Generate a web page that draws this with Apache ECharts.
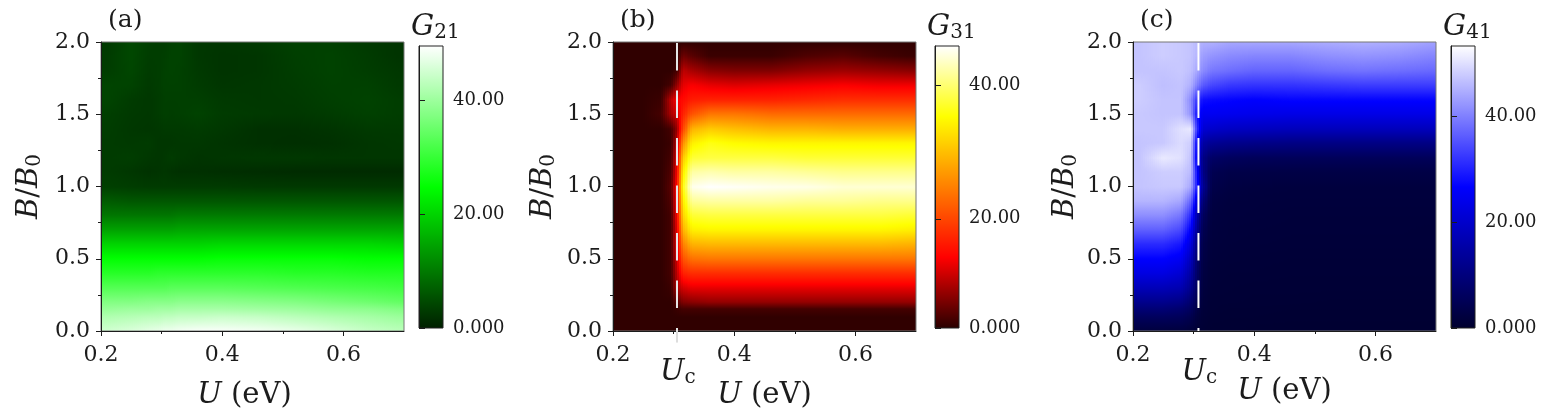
<!DOCTYPE html>
<html>
<head>
<meta charset="utf-8">
<style>
  html, body { margin: 0; padding: 0; background: #fff; }
  #chart { width: 1549px; height: 415px; }
</style>
<script src="https://cdn.jsdelivr.net/npm/echarts@6/dist/echarts.min.js"></script>
</head>
<body>
<div id="chart"></div>
<script>
// U (eV) of each data column, B/B0 of each data row (rows run bottom to top)
const uNodes = [0.21, 0.25, 0.28, 0.295, 0.305, 0.315, 0.33, 0.36, 0.4, 0.46, 0.52, 0.58, 0.64, 0.69];
const bNodes = [0, 0.1, 0.15, 0.2, 0.3, 0.4, 0.5, 0.6, 0.7, 0.8, 0.9, 1.0, 1.1, 1.2, 1.3, 1.4, 1.5, 1.6, 1.7, 1.8, 1.9, 2.0];

const uTicks = [0.2, 0.4, 0.6];
const uMinorTicks = [0.3, 0.5];
const barTicks = [[0, 20, 40], [3.7, 20, 40], [0, 20, 40]];
const barRanges = [[0, 49.6], [3.7, 45.8], [0, 53.2]];
const panelLabels = ['(a)', '(b)', '(c)'];
const barNames = ['21', '31', '41'];
const uCritical = [null, 0.3056, 0.308];

const g21 = [
  [45, 46, 47, 47.5, 48, 48, 48.5, 49, 49, 48.5, 47.5, 46, 44, 43],
  [42, 42.5, 43, 43, 43.5, 43.5, 44, 44, 44.5, 44, 43, 42, 41, 40],
  [39.5, 40, 40, 40.5, 40.5, 40.5, 41, 41, 41, 40.5, 40, 39, 38.5, 37.5],
  [37.5, 37.5, 38, 38, 38, 38, 38.5, 38.5, 38.5, 38, 37.5, 36.5, 35.5, 34.5],
  [33, 33, 33, 33, 33, 33.5, 33.5, 33.5, 33.5, 33, 32.5, 32, 31.5, 31],
  [28.5, 28.5, 28.5, 29, 29, 29, 29, 29, 29, 29, 28.5, 28.5, 28, 28],
  [25, 25, 25, 25, 25, 25, 25, 25, 25.5, 25.5, 25.5, 25.5, 25, 25],
  [20, 20, 20, 20, 20, 20, 20, 20, 20.5, 20.5, 20.5, 20.5, 20.5, 20],
  [14.5, 14.5, 14.5, 14.5, 14.5, 14.5, 15, 15, 15, 15, 15, 15, 15, 15],
  [9.5, 9.5, 9.5, 9.5, 9.5, 9.5, 10, 10, 10, 10, 10, 10, 10, 10],
  [6.5, 6, 6, 6, 6, 6, 6, 6, 6, 6, 6, 6, 6, 6],
  [3.5, 3.2, 3, 3, 3, 3, 3, 3, 3, 2.8, 2.8, 2.8, 2.8, 2.8],
  [3, 2.5, 2, 2.2, 2.4, 2, 1.8, 1.8, 1.6, 1.4, 1.2, 1.2, 1.2, 1.2],
  [3, 3.2, 2.6, 2.4, 2.6, 3, 2.6, 2.2, 2.4, 2.6, 2.6, 2.4, 2.4, 2.4],
  [3, 2.8, 3, 2.4, 2.4, 2.4, 2.6, 2.6, 2.2, 1.8, 1.6, 1.8, 2.4, 2.6],
  [3.2, 2.6, 2.4, 2.6, 2.8, 2.8, 2.8, 3, 2.6, 1.8, 1.8, 2.2, 2.8, 2.8],
  [3.4, 2.8, 2.6, 3, 3.4, 3.2, 3.4, 3.8, 3, 2.8, 2.6, 3, 3.6, 3.2],
  [4, 3, 2.6, 3, 3.4, 3.4, 3.4, 3.4, 2.8, 2.6, 2.8, 3.4, 3.8, 3.2],
  [4, 3.8, 2.8, 3.2, 3.6, 3.6, 3.6, 3, 2.4, 2.6, 3, 3.6, 3.6, 2.8],
  [3.2, 4.2, 3, 3.2, 3.6, 3.8, 3.6, 2.8, 2.2, 2.4, 3.2, 3.8, 3.2, 2.6],
  [3, 4.4, 3.2, 3.2, 3.4, 3.8, 3.8, 2.6, 2.2, 2.4, 3.4, 3.8, 3, 2.2],
  [2.8, 4.4, 3.4, 3.2, 3.2, 3.6, 3.8, 2.6, 2.4, 2.8, 3.6, 3.6, 2.8, 2.2]
];

const g31 = [
  [4, 4, 4, 4, 4, 4, 4, 4, 4, 4, 4, 4, 4, 4],
  [4, 4, 4, 4, 4, 4, 4, 4, 4, 4, 4, 4, 4, 4],
  [4, 4, 4, 4, 4.5, 5, 5, 5, 5, 5, 5, 5, 5, 5],
  [4, 4, 4, 4, 6, 8, 8.5, 9, 9, 9, 9, 9, 9, 9],
  [4, 4, 4, 4.5, 10, 12, 13, 13, 13, 13, 13, 13, 13, 13],
  [4, 4, 4, 5, 11, 17, 18, 18, 18, 18, 18, 18, 18, 18],
  [4, 4, 4, 5, 12, 21, 23.5, 24, 24, 24, 24, 24, 24, 24],
  [4, 4, 4, 5, 13, 25, 29, 29.5, 29.5, 29.5, 29.5, 29.5, 29.5, 29],
  [4, 4, 4, 5, 13, 29, 34, 34.5, 34.5, 34.5, 34.5, 34.5, 34.5, 34],
  [4, 4, 4, 5, 14, 32, 37.5, 38, 38, 38, 38, 38, 38, 37.5],
  [4, 4, 4, 5.5, 14.5, 34, 41.5, 42, 42, 42, 41.5, 41.5, 41, 41],
  [4, 4, 4, 6, 15, 36, 45, 45.8, 45.5, 45, 44.8, 44, 44, 44],
  [4, 4, 4, 5.5, 14, 34, 42, 42.5, 42, 42, 41.5, 41, 41, 41],
  [4, 4, 4, 5, 13, 31, 37.5, 38, 38, 38, 37.5, 37.5, 37.5, 37.5],
  [4, 4, 4, 4.5, 11, 26, 34, 36, 35, 34.5, 34.5, 34.5, 34.5, 34.5],
  [4, 4, 4, 5, 9, 20, 29, 31, 30, 29, 29, 28.5, 28.5, 28.5],
  [4, 4, 5, 10, 12, 17, 21, 24, 24, 23, 23, 23, 23, 23],
  [4, 4, 4.5, 11, 14, 15, 16.5, 17, 17, 17, 17.5, 18, 18, 18],
  [4, 4, 4, 5, 9, 13, 14, 13, 12.5, 13, 13.5, 14, 13.5, 13.5],
  [4, 4, 4, 4, 5, 11, 10, 8.5, 8, 8, 9, 9.5, 9, 8.5],
  [4, 4, 4, 4, 4, 7, 6, 4.5, 4.5, 4.5, 5.5, 6, 5, 4.5],
  [4, 4, 4, 4, 4, 4, 4, 4, 4, 4, 4, 4, 4, 4]
];

const g41 = [
  [2, 2, 2, 1.5, 1, 0.8, 0.6, 0.6, 0.5, 0.5, 0.5, 0.5, 0.5, 0.5],
  [6, 6, 5.5, 4, 2, 1.2, 0.8, 0.7, 0.7, 0.6, 0.6, 0.6, 0.6, 0.6],
  [9, 9, 8, 6, 3, 1.4, 1, 0.8, 0.8, 0.7, 0.7, 0.7, 0.7, 0.7],
  [12, 12, 11, 8, 4, 1.6, 1, 1, 0.9, 0.9, 0.8, 0.8, 0.8, 0.8],
  [17.5, 17.5, 16.5, 12, 6, 2, 1.2, 1.1, 1, 1, 1, 1, 1, 1],
  [23, 23, 21, 15, 7, 2.5, 1.4, 1.2, 1.2, 1.1, 1.1, 1.1, 1.1, 1.1],
  [26.6, 26.6, 25, 18, 8, 3, 1.6, 1.4, 1.3, 1.2, 1.2, 1.2, 1.2, 1.2],
  [31, 31, 29, 22, 10, 3.5, 1.8, 1.6, 1.5, 1.4, 1.4, 1.4, 1.4, 1.4],
  [36.5, 36.5, 34, 26, 13, 4.5, 2, 1.7, 1.6, 1.5, 1.5, 1.5, 1.5, 1.4],
  [41.5, 41.5, 39, 31, 16, 6, 2.2, 1.9, 1.8, 1.6, 1.6, 1.6, 1.6, 1.6],
  [45.5, 45.5, 44, 37, 22, 9, 2.6, 2, 1.9, 1.8, 1.8, 1.8, 1.8, 1.8],
  [47, 47.5, 47.5, 44, 29, 13, 3.5, 2.5, 2.2, 2, 2, 2, 2, 2],
  [47, 48, 48, 46, 28, 11, 4.5, 3.5, 3.2, 3, 3, 3, 3, 3],
  [47, 51, 50, 47, 24, 11, 7, 6, 5.5, 5.5, 5.5, 5.5, 5.5, 5.5],
  [47, 47.5, 49.5, 48, 26, 15, 13, 12, 11.5, 11, 11, 11, 11, 11],
  [47.5, 47.5, 50, 51, 32, 21, 20, 19, 18.5, 18, 18, 18, 18, 18],
  [47.5, 47, 47, 42, 28, 25, 25, 24.5, 24, 23.5, 23.5, 23.5, 23.5, 23.5],
  [48, 47, 47, 41, 32, 28, 27.5, 27, 26.5, 27, 27, 27, 27, 27],
  [48, 46.5, 47, 45, 40, 36, 34, 32.5, 32, 32, 32.5, 33, 33, 33],
  [47, 47, 47.5, 46.5, 44, 41, 39, 38, 37, 37, 38, 38.5, 38, 37.5],
  [47, 48, 47.5, 47, 45.5, 43, 42, 41, 40.5, 40.5, 41.5, 42, 41.5, 40.5],
  [47, 48, 47.5, 47, 46, 45, 45, 44, 44, 44, 44.5, 45, 44.5, 43.5]
];

const panelValues = [g21, g31, g41];

const FONT = '"DejaVu Serif", serif';
const INK = '#1c1c1c';

// colour stops per panel: [fraction of the bar, [r, g, b]]
const colorStops = [
  [[0, [0, 32, 0]], [0.5, [0, 255, 0]], [1, [255, 255, 255]]],
  [[0, [42, 0, 0]], [0.25, [255, 0, 0]], [0.75, [255, 255, 0]], [1, [255, 255, 255]]],
  [[0, [0, 0, 46]], [0.5, [0, 0, 255]], [1, [255, 255, 255]]]
];

// pixel layout of the three panels
const plotLefts = [101, 613, 1133];
const barLefts = [419, 935, 1451];
const yNameGaps = [56, 54, 52];
const xNameGaps = [50, 50, 46];

function colorAt(stops, t) {
  t = Math.max(0, Math.min(1, t));
  for (let i = 1; i < stops.length; i++) {
    if (t <= stops[i][0]) {
      const a = stops[i - 1], b = stops[i];
      const f = (t - a[0]) / (b[0] - a[0]);
      const c = a[1].map((v, k) => Math.round(v + (b[1][k] - v) * f));
      return 'rgb(' + c.join(',') + ')';
    }
  }
  return 'rgb(255,255,255)';
}

// shades one data cell from the values at its four corners, in thin vertical strips
function shadedCell(panel, steps) {
  const stops = colorStops[panel];
  const range = barRanges[panel];
  const toColor = v => colorAt(stops, (v - range[0]) / (range[1] - range[0]));
  return function (params, api) {
    const a = api.coord([api.value(0), api.value(2)]);
    const b = api.coord([api.value(1), api.value(3)]);
    const x0 = Math.round(a[0]), x1 = Math.round(b[0]);
    const y0 = Math.round(b[1]), y1 = Math.round(a[1]);
    const lowL = api.value(4), lowR = api.value(5), highL = api.value(6), highR = api.value(7);
    const strips = Math.max(1, Math.round((x1 - x0) / 2));
    const children = [];
    for (let k = 0; k < strips; k++) {
      const f = (k + 0.5) / strips;
      const low = lowL + (lowR - lowL) * f;
      const high = highL + (highR - highL) * f;
      const list = [];
      for (let s = 0; s <= steps; s++) {
        list.push({ offset: s / steps, color: toColor(high + (low - high) * s / steps) });
      }
      const sx0 = x0 + Math.round((x1 - x0) * k / strips);
      const sx1 = x0 + Math.round((x1 - x0) * (k + 1) / strips);
      children.push({
        type: 'rect',
        silent: true,
        shape: { x: sx0, y: y0, width: sx1 - sx0, height: y1 - y0 },
        style: { fill: new echarts.graphic.LinearGradient(0, 0, 0, 1, list) }
      });
    }
    return { type: 'group', children };
  };
}

// [uLeft, uRight, bLow, bHigh, gLowLeft, gLowRight, gHighLeft, gHighRight]
function buildCells(values) {
  const cells = [];
  const columns = [0.2].concat(uNodes, [0.7]);
  const at = (row, c) => values[row][Math.max(0, Math.min(uNodes.length - 1, c - 1))];
  for (let j = 0; j < bNodes.length - 1; j++) {
    for (let c = 0; c < columns.length - 1; c++) {
      cells.push([columns[c], columns[c + 1], bNodes[j], bNodes[j + 1],
        at(j, c), at(j, c + 1), at(j + 1, c), at(j + 1, c + 1)]);
    }
  }
  return cells;
}

const nameRich = {
  i: { fontFamily: FONT, fontStyle: 'italic', fontWeight: 'normal', fontSize: 29, color: INK },
  r: { fontFamily: FONT, fontWeight: 'normal', fontSize: 29, color: INK },
  s: { fontFamily: FONT, fontWeight: 'normal', fontSize: 20, color: INK, verticalAlign: 'bottom', padding: [12, 0, 0, 0] }
};

const grid = [], xAxis = [], yAxis = [], series = [], title = [];

panelValues.forEach((values, p) => {
  const range = barRanges[p];
  grid.push({ left: plotLefts[p], top: 42, width: 303, height: 289, show: true, z: 9, borderColor: '#777', borderWidth: 1, backgroundColor: 'transparent' });
  grid.push({ left: barLefts[p], top: 46, width: 24, height: 282, show: true, z: 9, borderColor: '#222', borderWidth: 1, backgroundColor: 'transparent' });

  xAxis.push({
    gridIndex: 2 * p, type: 'value', min: 0.2, max: 0.7, z: 10,
    name: '{i|U}{r| (eV)}', nameLocation: 'middle', nameGap: xNameGaps[p],
    nameTextStyle: { rich: nameRich, padding: [0, p === 0 ? 16 : 0, 0, 0] },
    splitLine: { show: false },
    axisLine: { lineStyle: { color: INK, width: 1 } },
    axisTick: { length: 5, lineStyle: { color: INK }, customValues: uTicks },
    axisLabel: { customValues: uTicks, formatter: v => v.toFixed(1), fontFamily: FONT, fontSize: 22, color: INK, margin: 13 }
  });
  xAxis.push({
    gridIndex: 2 * p, type: 'value', min: 0.2, max: 0.7, z: 10, position: 'bottom',
    splitLine: { show: false },
    axisLine: { show: false },
    axisTick: { length: 3, lineStyle: { color: INK }, customValues: uMinorTicks },
    axisLabel: { show: false }
  });
  xAxis.push({
    gridIndex: 2 * p + 1, type: 'value', min: 0, max: 1, show: false
  });

  yAxis.push({
    gridIndex: 2 * p, type: 'value', min: 0, max: 2, interval: 0.5, z: 10,
    name: '{i|B}{r|/}{i|B}{s|0}', nameLocation: 'middle', nameGap: yNameGaps[p], nameRotate: 90,
    nameTextStyle: { rich: nameRich },
    splitLine: { show: false },
    axisLine: { lineStyle: { color: INK, width: 1 } },
    axisTick: { length: 5, lineStyle: { color: INK } },
    minorTick: { show: true, splitNumber: 2, length: 3, lineStyle: { color: INK } },
    axisLabel: { formatter: v => v.toFixed(1), fontFamily: FONT, fontSize: 22, color: INK, margin: 11 }
  });
  yAxis.push({
    gridIndex: 2 * p + 1, type: 'value', min: range[0], max: range[1], position: 'right', z: 10,
    splitLine: { show: false },
    axisLine: { lineStyle: { color: INK, width: 1 } },
    axisTick: { length: 6, lineStyle: { color: INK }, customValues: barTicks[p] },
    axisLabel: {
      customValues: barTicks[p],
      formatter: v => (v === barTicks[p][0] ? '0.000' : v.toFixed(2)),
      fontFamily: FONT, fontSize: 18, color: INK, margin: 10
    }
  });

  series.push({
    type: 'custom', xAxisIndex: 3 * p, yAxisIndex: 2 * p, z: 2,
    renderItem: shadedCell(p, 8), data: buildCells(values),
    encode: { x: [0, 1], y: [2, 3] }, silent: true, animation: false, progressive: 0
  });
  series.push({
    type: 'custom', xAxisIndex: 3 * p + 2, yAxisIndex: 2 * p + 1, z: 2,
    renderItem: shadedCell(p, 48), data: [[0, 1, range[0], range[1], range[0], range[0], range[1], range[1]]],
    encode: { x: [0, 1], y: [2, 3] }, silent: true, animation: false
  });

  if (uCritical[p] !== null) {
    series.push({
      type: 'line', xAxisIndex: 3 * p, yAxisIndex: 2 * p, z: 11,
      data: [[uCritical[p], 0], [uCritical[p], 2]],
      showSymbol: false, silent: true, animation: false,
      lineStyle: { color: p === 1 ? '#e6e6e6' : '#ffffff', width: 2, type: [27.5, 20], dashOffset: 24.5, cap: 'butt' }
    });
    title.push({
      text: '{i|U}{s|c}', left: plotLefts[p] + (uCritical[p] - 0.2) / 0.5 * 303 - 22, top: 351,
      textStyle: { rich: nameRich }
    });
  }
  if (p === 1) {
    // pale stub of the U_c line under the axis
    series.push({
      type: 'line', xAxisIndex: 3 * p, yAxisIndex: 2 * p, z: 11, clip: false,
      data: [[uCritical[p], 0], [uCritical[p], -0.08]],
      showSymbol: false, silent: true, animation: false,
      lineStyle: { color: '#dddddd', width: 2 }
    });
  }

  title.push({
    text: panelLabels[p], left: plotLefts[p] + 2, top: 3,
    textStyle: { fontFamily: FONT, fontSize: 25, fontWeight: 'normal', color: INK }
  });
  title.push({
    text: '{i|G}{s|' + barNames[p] + '}', left: barLefts[p] - 13, top: 6,
    textStyle: { rich: nameRich }
  });
});

const chart = echarts.init(document.getElementById('chart'));
chart.setOption({
  animation: false,
  backgroundColor: '#fff',
  title, grid, xAxis, yAxis, series
});
</script>
</body>
</html>
